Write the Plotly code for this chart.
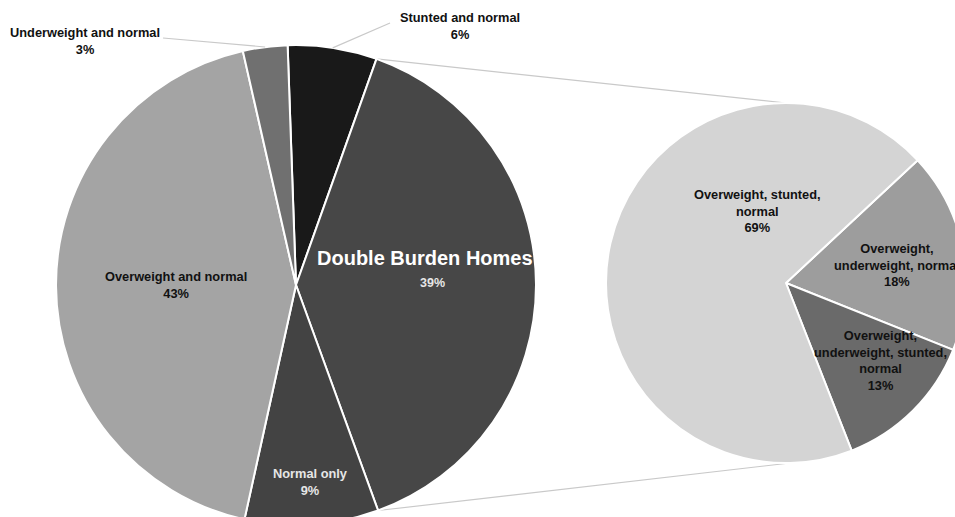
import math
import plotly.graph_objects as go

# ---------------- data ----------------
main_labels = ["Stunted and normal", "Double Burden Homes", "Normal only",
               "Overweight and normal", "Underweight and normal"]
main_values = [6, 39, 9, 43, 3]

sub_labels = ["Overweight, underweight, normal",
              "Overweight, underweight, stunted, normal",
              "Overweight, stunted, normal"]
sub_values = [18, 13, 69]

# display text (line breaks only)
main_display = ["Stunted and normal", "Double Burden Homes", "Normal only",
                "Overweight and normal", "Underweight and normal"]
sub_display = ["Overweight,<br>underweight, normal",
               "Overweight,<br>underweight, stunted,<br>normal",
               "Overweight, stunted,<br>normal"]

# ---------------- styles / layout ----------------
W, H = 975, 527          # figure is a bit larger than the window; page clips it
OFF = 0                  # body margin removed by post_script
main_colors = ["#191919", "#474747", "#434343", "#a4a4a4", "#707070"]
sub_colors = ["#9d9d9d", "#6a6a6a", "#d4d4d4"]
FONT = "Liberation Sans, Arial, sans-serif"

# pie circles in screen pixels: (center x, center y, radius)
main_circ = (296, 285, 240)
sub_circ = (786, 283, 180)
main_rot = -2
sub_rot = 47


def px(x, y):
    """screen pixel -> paper coords"""
    return (x - OFF) / W, 1 - (y - OFF) / H


def dom(circ):
    cx, cy, r = circ
    x0, y1 = px(cx - r, cy - r)
    x1, y0 = px(cx + r, cy + r)
    return dict(x=[max(0, x0), min(1, x1)], y=[max(0, y0), min(1, y1)])


fig = go.Figure()
fig.add_trace(go.Pie(labels=main_labels, values=main_values, sort=False,
                     direction="clockwise", rotation=main_rot,
                     marker=dict(colors=main_colors, line=dict(color="white", width=2)),
                     textinfo="none", hoverinfo="label+percent",
                     domain=dom(main_circ), showlegend=False))
fig.add_trace(go.Pie(labels=sub_labels, values=sub_values, sort=False,
                     direction="clockwise", rotation=sub_rot,
                     marker=dict(colors=sub_colors, line=dict(color="white", width=2)),
                     textinfo="none", hoverinfo="label+percent",
                     domain=dom(sub_circ), showlegend=False))

# ----- geometry helpers from data -----
mcx, mcy, mr = main_circ
scx, scy, sr = sub_circ
tot = sum(main_values)
bounds = [main_rot]
for v in main_values:
    bounds.append(bounds[-1] + v / tot * 360)


def edge(cx, cy, r, ang):
    a = math.radians(ang)
    return cx + r * math.sin(a), cy - r * math.cos(a)


shapes = []
line_style = dict(color="#c9c9c9", width=1.2)
# connectors from the "Double Burden Homes" slice to the sub pie
db = main_labels.index("Double Burden Homes")
p_top = edge(mcx, mcy, mr, bounds[db])
p_bot = edge(mcx, mcy, mr, bounds[db + 1])
for (x0, y0), (x1, y1) in [(p_top, (scx, scy - sr)), (p_bot, (scx + 4, scy + sr))]:
    a0, b0 = px(x0, y0)
    a1, b1 = px(x1, y1)
    shapes.append(dict(type="line", xref="paper", yref="paper",
                       x0=a0, y0=b0, x1=a1, y1=b1, line=line_style, layer="below"))

# leader lines for the small outside labels
leader_ends = {"Underweight and normal": (163, 38), "Stunted and normal": (390, 23)}
for name, (ex, ey) in leader_ends.items():
    i = main_labels.index(name)
    mid = (bounds[i] + bounds[i + 1]) / 2
    sx, sy = edge(mcx, mcy, mr, mid)
    a0, b0 = px(sx, sy)
    a1, b1 = px(ex, ey)
    shapes.append(dict(type="line", xref="paper", yref="paper",
                       x0=a0, y0=b0, x1=a1, y1=b1, line=line_style))

# ----- labels (screen pixel positions) -----
main_pos = {
    "Stunted and normal": (460, 26, "#111111"),
    "Normal only": (310, 482, "#e6e6e6"),
    "Overweight and normal": (176, 285, "#111111"),
    "Underweight and normal": (85, 41, "#111111"),
}
sub_pos = [(897, 265), (880, 360), (757, 211)]

annotations = []


def add_text(x, y, text, size=12.8, color="#111111"):
    ax, ay = px(x, y)
    annotations.append(dict(x=ax, y=ay, xref="paper", yref="paper", text=text,
                            showarrow=False, xanchor="center", yanchor="middle",
                            align="center",
                            font=dict(family=FONT, size=size, color=color, weight="bold")))


for lab, disp, v in zip(main_labels, main_display, main_values):
    if lab in main_pos:
        x, y, c = main_pos[lab]
        add_text(x, y, f"{disp}<br>{v}%", color=c)
# Double Burden Homes: larger title + percent
add_text(425, 258, main_display[db], size=20, color="white")
add_text(432, 283, f"{main_values[db]}%", size=12.5, color="#e6e6e6")

for disp, v, (x, y) in zip(sub_display, sub_values, sub_pos):
    add_text(x, y, f"{disp}<br>{v}%")

fig.update_layout(width=W, height=H, margin=dict(l=0, r=0, t=0, b=0),
                  paper_bgcolor="white", plot_bgcolor="white",
                  shapes=shapes, annotations=annotations, showlegend=False)

fig.write_html("out.html",
               config={"displayModeBar": False},
               post_script="document.body.style.margin='0';"
                           "document.body.style.overflow='hidden';"
                           "document.documentElement.style.overflow='hidden';")
